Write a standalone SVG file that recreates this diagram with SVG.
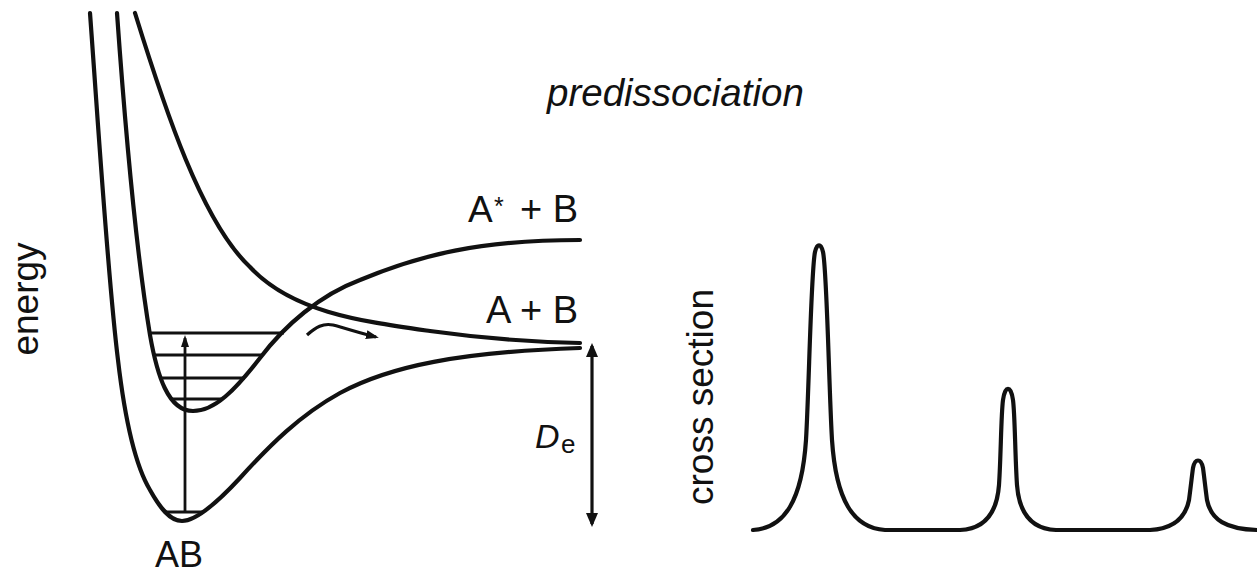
<svg xmlns="http://www.w3.org/2000/svg" width="1257" height="579" viewBox="0 0 1257 579">
<defs>
<style>
.curve{fill:none;stroke:#111;stroke-width:4.2;stroke-linecap:round;stroke-linejoin:round}
.lvl{fill:none;stroke:#111;stroke-width:3}
.arr{fill:none;stroke:#111}
.lbl{font-family:"Liberation Sans",Arial,Helvetica,sans-serif;fill:#111}
</style>
<marker id="ahSmall" viewBox="0 0 12 8" refX="9" refY="4" markerWidth="12" markerHeight="8" markerUnits="userSpaceOnUse" orient="auto-start-reverse"><path d="M0,0 L12,4 L0,8 z" fill="#111"/></marker>
<marker id="ahCurve" viewBox="0 0 13 9" refX="10" refY="4.5" markerWidth="13" markerHeight="9" markerUnits="userSpaceOnUse" orient="auto-start-reverse"><path d="M0,0 L13,4.5 L0,9 z" fill="#111"/></marker>
<marker id="ahBig" viewBox="0 0 14 12" refX="11" refY="6" markerWidth="14" markerHeight="12" markerUnits="userSpaceOnUse" orient="auto-start-reverse"><path d="M0,0 L14,6 L0,12 z" fill="#111"/></marker>
</defs>
<rect width="1257" height="579" fill="#fff"/>

<g id="curve-ground">
<path class="curve" d="M90,13 C100,150 108,280 118,360 C125,420 135,465 150,490 C160,508 170,521 182,521 C195,521 215,505 240,478 C270,445 300,415 340,393 C390,366 460,352 580,348"/>
</g>
<g id="curve-excited">
<path class="curve" d="M117,13 C126,140 136,250 150,335 C157,375 168,411 193,411 C215,411 235,390 260,358 C285,325 320,295 360,280 C420,255 480,240 580,240"/>
</g>
<g id="curve-repulsive">
<path class="curve" d="M135,13 C165,110 202,222 250,267 C292,312 360,321 430,331 C480,338 530,342 580,343"/>
</g>
<g id="levels">
<line class="lvl" x1="151" y1="333" x2="284" y2="333"/>
<line class="lvl" x1="154" y1="355" x2="263" y2="355"/>
<line class="lvl" x1="161" y1="378" x2="245" y2="378"/>
<line class="lvl" x1="172" y1="399" x2="221" y2="399"/>
<line class="lvl" x1="165" y1="512" x2="204" y2="512"/>
</g>
<g id="spectrum">
<path class="curve" d="M753,530 C785,528 802,500 806,440 C809,390 811,270 815,252 C817,243 821,243 823,252 C827,270 829,390 832,440 C836,500 853,528 885,530 L960,530 C985,529 997,512 999,485 C1001,455 1001,415 1003,400 C1005,385 1011,385 1013,400 C1015,415 1015,455 1017,485 C1019,512 1031,529 1056,530 L1150,530 C1170,529 1185,520 1189,500 C1191,485 1192,475 1193,468 C1195,458 1201,458 1203,468 C1204,475 1205,485 1207,500 C1211,520 1226,529 1257,530"/>
</g>

<g id="connectors">
<line class="arr" x1="185" y1="512" x2="185" y2="338" stroke-width="2.8" marker-end="url(#ahSmall)"/>
<path class="arr" d="M307,335 C316,327 323,323 333,325 C345,328 360,333 376,337" stroke-width="3.2" marker-end="url(#ahCurve)"/>
<line class="arr" x1="592" y1="346" x2="592" y2="524" stroke-width="3.2" marker-start="url(#ahBig)" marker-end="url(#ahBig)"/>
</g>

<g id="labels">
<text class="lbl" x="468" y="222" font-size="37">A<tspan x="494" dy="-7" font-size="25">*</tspan><tspan x="520" dy="7" font-size="38">+ B</tspan></text>
<text class="lbl" x="547" y="106" font-size="38.5" font-style="italic">predissociation</text>
<text class="lbl" x="578" y="323" font-size="38" text-anchor="end">A + B</text>
<text class="lbl" x="155" y="567" font-size="36">AB</text>
<text class="lbl" x="535" y="448" font-size="34" font-style="italic">D</text>
<text class="lbl" x="561" y="453" font-size="26">e</text>
<text class="lbl" font-size="37" text-anchor="middle" transform="translate(38,299) rotate(-90)">energy</text>
<text class="lbl" font-size="37" text-anchor="middle" transform="translate(713,397) rotate(-90)">cross section</text>
</g>
</svg>
